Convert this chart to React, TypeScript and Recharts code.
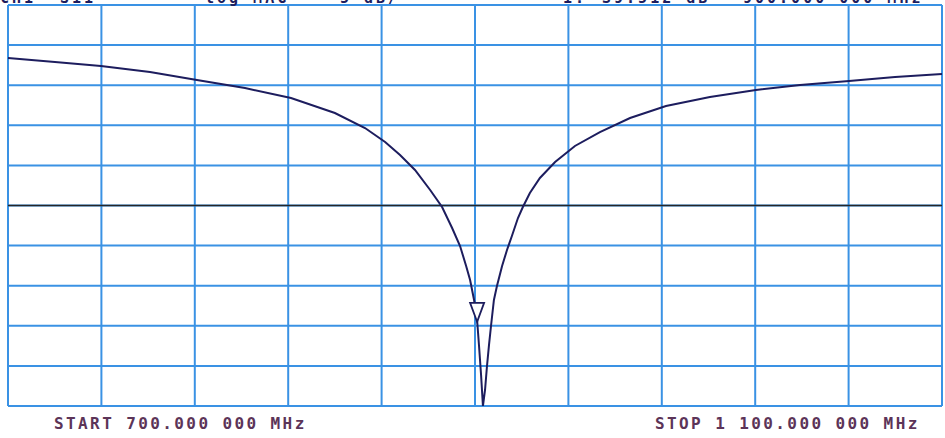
import React from "react";
import {
  LineChart,
  Line,
  XAxis,
  YAxis,
  ReferenceLine,
  ReferenceDot,
} from "recharts";

// frequency (MHz) and log-magnitude (dB)
const freqs = [
  700.0, 720.1, 739.8, 760.8, 780.9, 801.5, 821.2, 840.0, 852.9, 861.5, 867.9,
  874.3, 880.8, 885.9, 890.2, 893.6, 896.2, 897.9, 899.6, 900.9, 901.7, 902.6,
  903.4, 904.3, 905.1, 906.0, 906.9, 908.1, 909.4, 911.6, 913.7, 915.8, 918.4,
  920.5, 923.5, 927.8, 934.3, 942.8, 953.5, 966.4, 981.8, 1000.6, 1020.3,
  1039.2, 1060.2, 1079.9, 1100.0,
];
const mags = [
  -6.61, -7.11, -7.61, -8.35, -9.35, -10.35, -11.6, -13.47, -15.34, -17.08,
  -18.7, -20.57, -23.07, -25.19, -27.81, -30.05, -32.54, -34.29, -36.78,
  -39.28, -42.39, -46.14, -50.0, -48.0, -45.14, -42.39, -39.9, -36.78, -35.04,
  -32.54, -30.55, -28.8, -26.56, -25.19, -23.44, -21.57, -19.58, -17.58,
  -15.84, -14.09, -12.59, -11.47, -10.6, -9.98, -9.48, -8.98, -8.6,
];

const freqTicks = [700, 740, 780, 820, 860, 900, 940, 980, 1020, 1060, 1100];
const magTicks = [0, -5, -10, -15, -20, -25, -30, -35, -40, -45, -50];
const refLevel = -25;

const markerFreq = 900.9;
const markerMag = -39.5;

const headerLeft = [
  { label: "CH1", x: 0 },
  { label: "S11", x: 60 },
  { label: "log MAG", x: 205 },
  { label: "5 dB/", x: 340 },
];
const headerRight = [
  { label: "1:", x: 563 },
  { label: "-39.512 dB", x: 590 },
  { label: "900.000 000 MHz", x: 743 },
];
const startLabel = "START 700.000 000 MHz";
const stopLabel = "STOP 1 100.000 000 MHz";

const data = freqs.map((f, i) => ({ f, db: mags[i] }));

const GRID = "#3a92e4";
const TRACE = "#1d1d5e";
const TEXT = "#5c3458";
const mono = "'DejaVu Sans Mono', monospace";

function MarkerShape(props: any) {
  const { cx, cy } = props;
  if (cx == null || cy == null) return null;
  return (
    <path
      d={`M${cx},${cy} L${cx - 7},${cy - 19} L${cx + 7},${cy - 19} Z`}
      fill="white"
      stroke={TRACE}
      strokeWidth={1.8}
    />
  );
}

export default function App() {
  return (
    <div
      style={{
        position: "absolute",
        left: 0,
        top: 0,
        width: 945,
        height: 438,
        background: "white",
        overflow: "hidden",
      }}
    >
      <LineChart
        width={945}
        height={438}
        data={data}
        margin={{ top: 5, right: 3, left: 8, bottom: 32 }}
      >
        <XAxis
          dataKey="f"
          type="number"
          domain={[700, 1100]}
          ticks={freqTicks}
          tick={false}
          tickLine={false}
          axisLine={false}
          height={0}
        />
        <YAxis
          type="number"
          domain={[-50, 0]}
          ticks={magTicks}
          tick={false}
          tickLine={false}
          axisLine={false}
          width={0}
          allowDataOverflow
        />
        {freqTicks.map((t) => (
          <ReferenceLine key={`v${t}`} x={t} stroke={GRID} strokeWidth={2} />
        ))}
        {magTicks.map((t) => (
          <ReferenceLine key={`h${t}`} y={t} stroke={GRID} strokeWidth={2} />
        ))}
        <ReferenceLine y={refLevel} stroke="#262626" strokeWidth={1.6} />
        <Line
          type="linear"
          dataKey="db"
          stroke={TRACE}
          strokeWidth={2}
          dot={false}
          isAnimationActive={false}
        />
        <ReferenceDot x={markerFreq} y={markerMag} shape={MarkerShape} />
      </LineChart>
      <svg
        width={945}
        height={438}
        style={{ position: "absolute", left: 0, top: 0, pointerEvents: "none" }}
      >
        {[...headerLeft, ...headerRight].map((h) => (
          <text
            key={h.label}
            x={h.x}
            y={3}
            fontFamily={mono}
            fontSize={15}
            fontWeight="bold"
            letterSpacing={3}
            fill={TRACE}
          >
            {h.label}
          </text>
        ))}
        <text
          x={54}
          y={429}
          fontFamily={mono}
          fontSize={16}
          fontWeight="bold"
          letterSpacing={2.4}
          fill={TEXT}
          style={{ whiteSpace: "pre" }}
        >
          {startLabel}
        </text>
        <text
          x={655}
          y={429}
          fontFamily={mono}
          fontSize={16}
          fontWeight="bold"
          letterSpacing={2.4}
          fill={TEXT}
          style={{ whiteSpace: "pre" }}
        >
          {stopLabel}
        </text>
      </svg>
    </div>
  );
}
